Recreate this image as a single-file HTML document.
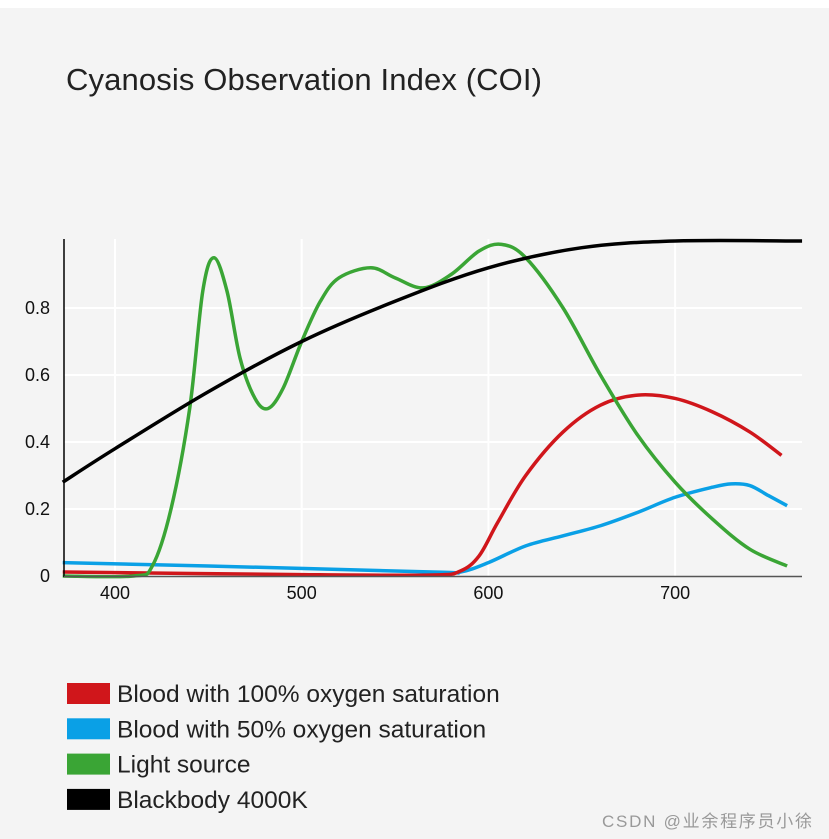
<!DOCTYPE html>
<html><head><meta charset="utf-8"><style>
body{margin:0;background:#fff;}
#wrap{position:relative;width:829px;height:839px;background:#fff;}
#panel{position:absolute;left:0;top:8px;width:829px;height:831px;background:#f4f4f4;}
text{font-family:"Liberation Sans","DejaVu Sans",sans-serif;}
</style></head><body>
<div id="wrap">
<div id="panel"></div>
<svg id="svg" width="829" height="839" style="position:absolute;left:0;top:0">
<text x="66" y="90" font-size="31" fill="#222" textLength="476">Cyanosis Observation Index (COI)</text>
<g id="grid"></g><g id="series"></g><g id="axes"></g><g id="legend"></g>
<text x="602" y="827" font-size="17" fill="#999" textLength="210" font-family="'Liberation Sans','Noto Sans CJK SC',sans-serif">CSDN @业余程序员小徐</text>
</svg>
</div>
<script>
const xTicks=[400,500,600,700];
const yTicks=[0,0.2,0.4,0.6,0.8];
const yTickLabels=["0","0.2","0.4","0.6","0.8"];
const seriesNames=["Blood with 100% oxygen saturation","Blood with 50% oxygen saturation","Light source","Blackbody 4000K"];
const seriesColors=["#d0161b","#0aa0e6","#3aa535","#000000"];
const greenX=[372,410,420,430,440,447,453,460,467,475,482,490,500,510,520,537,550,565,580,595,607,620,640,660,680,700,720,740,760];
const greenY=[0,0,0.03,0.2,0.5,0.85,0.95,0.85,0.65,0.53,0.5,0.56,0.7,0.82,0.89,0.92,0.89,0.86,0.9,0.97,0.99,0.95,0.8,0.6,0.42,0.28,0.17,0.08,0.03];
const blackX=[372,400,450,500,550,600,650,700,768];
const blackY=[0.28,0.38,0.55,0.7,0.82,0.92,0.98,1.0,1.0];
const redX=[372,500,570,585,595,605,620,640,660,680,700,720,740,757];
const redY=[0.012,0.004,0.003,0.015,0.06,0.16,0.3,0.43,0.51,0.54,0.53,0.49,0.43,0.36];
const blueX=[372,450,570,585,600,620,640,660,680,700,720,730,740,750,760];
const blueY=[0.04,0.03,0.012,0.012,0.04,0.09,0.12,0.15,0.19,0.235,0.265,0.275,0.27,0.24,0.21];

const X0=64,X1=802,Y0=576,YT=239;
function sx(v){return 115+(v-400)*1.867;}
function sy(v){return 576-v*335;}
const NS="http://www.w3.org/2000/svg";
function mk(tag,attrs,parent){const e=document.createElementNS(NS,tag);for(const k in attrs)e.setAttribute(k,attrs[k]);parent.appendChild(e);return e;}
const grid=document.getElementById('grid'),axes=document.getElementById('axes'),ser=document.getElementById('series'),leg=document.getElementById('legend');
xTicks.forEach(t=>{
 const l=mk('line',{x1:sx(t),x2:sx(t),y1:YT,y2:Y0,stroke:'#fff','stroke-width':2},grid);
 
 
 const tx=mk('text',{x:sx(t),y:599,'font-size':18,'text-anchor':'middle',fill:'#111'},axes);
 tx.textContent=t;
 
 
});
yTicks.forEach((t,i)=>{
 if(t>0){const l=mk('line',{x1:X0,x2:X1,y1:sy(t),y2:sy(t),stroke:'#fff','stroke-width':2},grid);
 
 }
 const tx=mk('text',{x:50,y:sy(t)+6,'font-size':18,'text-anchor':'end',fill:'#111'},axes);
 tx.textContent=yTickLabels[i];
 
 
});
const ya=mk('line',{x1:X0,x2:X0,y1:YT,y2:Y0+1,stroke:'#000','stroke-width':1.5},axes);


const xa=mk('line',{x1:X0,x2:X1,y1:Y0+0.5,y2:Y0+0.5,stroke:'#555','stroke-width':1.5},axes);


function pathD(xs,ys){
 const p=xs.map((x,i)=>[sx(x),sy(ys[i])]);
 let d='M'+p[0][0]+','+p[0][1];
 for(let i=0;i<p.length-1;i++){
  const p0=p[Math.max(0,i-1)],p1=p[i],p2=p[i+1],p3=p[Math.min(p.length-1,i+2)];
  const c1=[p1[0]+(p2[0]-p0[0])/6,p1[1]+(p2[1]-p0[1])/6];
  const c2=[p2[0]-(p3[0]-p1[0])/6,p2[1]-(p3[1]-p1[1])/6];
  d+=' C'+c1+' '+c2+' '+p2;
 }
 return d;
}
const data=[[blueX,blueY,1,'blue-line'],[redX,redY,0,'red-line'],[greenX,greenY,2,'green-line'],[blackX,blackY,3,'black-line']];
data.forEach(s=>{
 const p=mk('path',{d:pathD(s[0],s[1]),fill:'none',stroke:seriesColors[s[2]],'stroke-width':3.5,'stroke-linejoin':'round'},ser);
 
 
});
seriesNames.forEach((n,i)=>{
 const y=694+i*35.3;
 const r=mk('rect',{x:67,y:y-11,width:43,height:21,fill:seriesColors[i]},leg);
 
 
 const t=mk('text',{x:117,y:y+8,'font-size':24.5,fill:'#222'},leg);
 t.textContent=n;
 
 
});
</script>
</body></html>
